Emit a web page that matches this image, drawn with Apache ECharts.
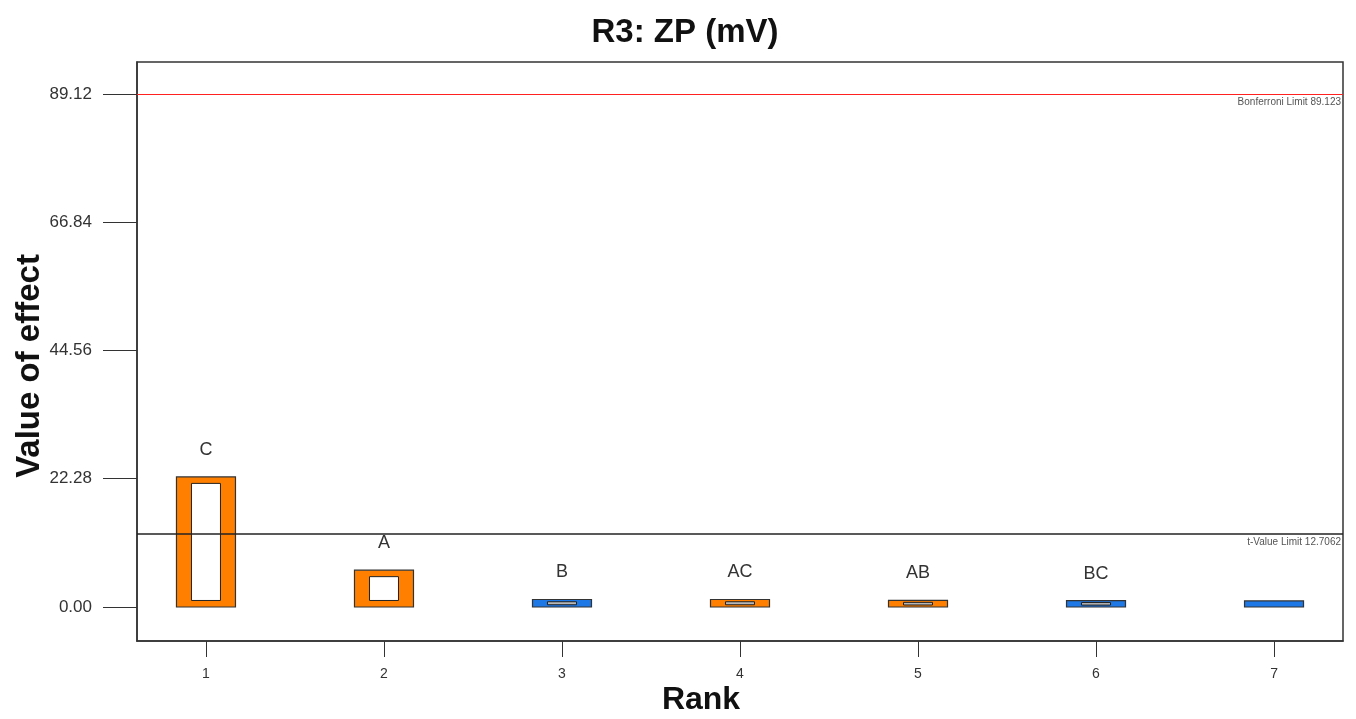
<!DOCTYPE html>
<html>
<head>
<meta charset="utf-8">
<title>R3: ZP (mV)</title>
<script src="https://cdn.jsdelivr.net/npm/echarts@6/dist/echarts.min.js"></script>
<style>
  html, body { margin: 0; padding: 0; background: #fff; }
  #chart { width: 1356px; height: 719px; }
</style>
</head>
<body>
<div id="chart"></div>
<script>
// Pareto chart of effects, ranked by magnitude
const ranks = [1, 2, 3, 4, 5, 6, 7];
const terms = ['C', 'A', 'B', 'AC', 'AB', 'BC', ''];
const effects = [22.6, 6.4, 1.3, 1.3, 1.15, 1.1, 1.05];
// +1 = positive effect (orange), -1 = negative effect (blue)
const effectSigns = [1, 1, -1, 1, 1, -1, -1];
const yTicks = [0, 22.28, 44.56, 66.84, 89.12];
const bonferroniLimit = 89.123;
const tValueLimit = 12.7062;

const POS_COLOR = '#FF8000';
const NEG_COLOR = '#1E78E6';
const INK = '#333';
const FONT = 'Arial, Liberation Sans, sans-serif';

const data = ranks.map((r, i) => [r, effects[i], effectSigns[i]]);

function renderBar(params, api) {
  const x = api.value(0);
  const v = api.value(1);
  const sign = api.value(2);
  const term = terms[params.dataIndex];
  const base = api.coord([x, 0]);
  const tip = api.coord([x, v]);
  const w = 59;
  const cx = base[0];
  const top = tip[1];
  const h = base[1] - tip[1];
  const children = [{
    type: 'rect',
    shape: { x: cx - w / 2, y: top, width: w, height: h },
    style: { fill: sign > 0 ? POS_COLOR : NEG_COLOR, stroke: INK, lineWidth: 1.2 }
  }];
  if (term) {
    const iw = 29;
    const inset = Math.min(6.5, h * 0.3);
    children.push({
      type: 'rect',
      shape: { x: cx - iw / 2, y: top + inset, width: iw, height: h - 2 * inset },
      style: { fill: h > 16 ? '#fff' : '#b8b8b8', stroke: '#222', lineWidth: 1 }
    });
    children.push({
      type: 'text',
      style: {
        text: term, x: cx, y: top - 27, align: 'center', verticalAlign: 'middle',
        fontSize: 18, fontFamily: FONT, fill: INK
      }
    });
  }
  return { type: 'group', children };
}

// horizontal reference line drawn as a markLine on an empty series
function limitSeries(value, text, color, width) {
  return {
    type: 'line',
    data: [],
    silent: true,
    markLine: {
      silent: true,
      symbol: 'none',
      animation: false,
      lineStyle: { color: color, width: width, type: 'solid' },
      label: {
        show: true, position: 'insideEndBottom', distance: [2, 3],
        formatter: text, fontSize: 10, color: '#555', fontFamily: FONT
      },
      data: [{ yAxis: value }]
    }
  };
}

const chart = echarts.init(document.getElementById('chart'), null, { renderer: 'canvas' });
chart.setOption({
  animation: false,
  backgroundColor: '#fff',
  textStyle: { fontFamily: FONT },
  title: {
    text: 'R3: ZP (mV)',
    left: 680, top: 11, textAlign: 'center',
    textStyle: { fontSize: 33, fontWeight: 'bold', color: '#111', fontFamily: FONT }
  },
  // axis titles
  graphic: [
    {
      type: 'text', x: 701, y: 700,
      style: {
        text: 'Rank', align: 'center', verticalAlign: 'middle',
        fontSize: 32, fontWeight: 'bold', fill: '#111', fontFamily: FONT
      }
    },
    {
      type: 'text', x: 30, y: 366, rotation: Math.PI / 2,
      style: {
        text: 'Value of effect', align: 'center', verticalAlign: 'middle',
        fontSize: 33, fontWeight: 'bold', fill: '#111', fontFamily: FONT
      }
    }
  ],
  grid: {
    left: 137, right: 13, top: 62, bottom: 78,
    outerBoundsMode: 'none', containLabel: false,
    show: true, borderColor: INK, borderWidth: 1.5, backgroundColor: '#fff'
  },
  xAxis: {
    type: 'value',
    min: 0.6125, max: 7.3875,
    axisLine: { show: true, onZero: false, lineStyle: { color: INK, width: 1.5 } },
    axisTick: { show: true, length: 16, lineStyle: { color: INK }, customValues: ranks },
    axisLabel: { margin: 26, fontSize: 14, color: INK, customValues: ranks },
    splitLine: { show: false }
  },
  yAxis: {
    type: 'value',
    min: -5.91, max: 94.68,
    axisLine: { show: true, onZero: false, lineStyle: { color: INK, width: 1.5 } },
    axisTick: { show: true, length: 34, lineStyle: { color: INK }, customValues: yTicks },
    axisLabel: {
      margin: 45, fontSize: 17, color: INK, customValues: yTicks,
      formatter: v => v.toFixed(2)
    },
    splitLine: { show: false }
  },
  series: [
    {
      type: 'custom',
      renderItem: renderBar,
      encode: { x: 0, y: 1 },
      data: data,
      z: 3
    },
    limitSeries(bonferroniLimit, 'Bonferroni Limit ' + bonferroniLimit, '#FF2020', 1.2),
    limitSeries(tValueLimit, 't-Value Limit ' + tValueLimit, '#222', 1.5)
  ]
});
</script>
</body>
</html>
